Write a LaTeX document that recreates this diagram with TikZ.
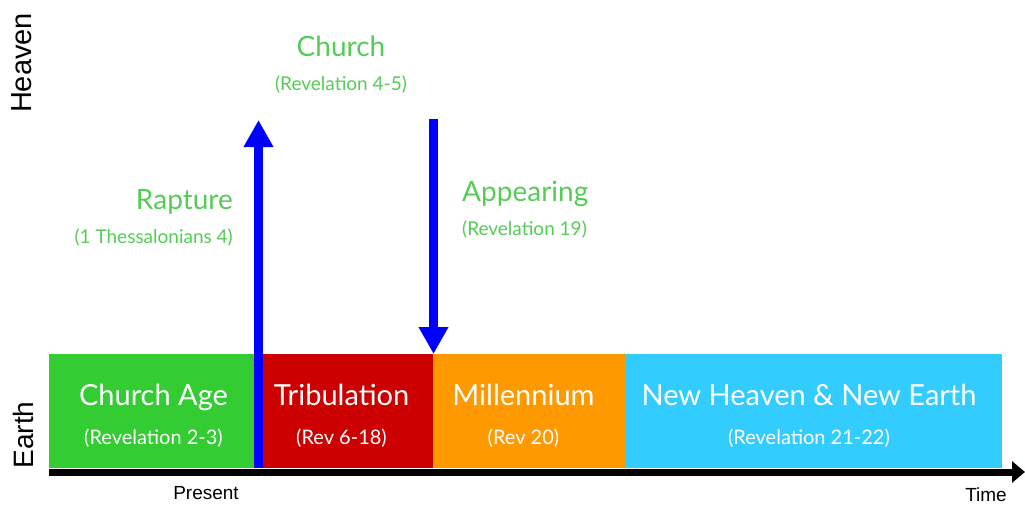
\documentclass[tikz,border=0pt]{standalone}
\usepackage{fontspec}
\setmainfont{Lato}
\newfontfamily\axisfont{Liberation Sans}
\usetikzlibrary{positioning,arrows.meta}
\definecolor{agegreen}{HTML}{33CC33}
\definecolor{tribred}{HTML}{CC0000}
\definecolor{millorange}{HTML}{FF9900}
\definecolor{newblue}{HTML}{33CCFF}
\definecolor{notegreen}{HTML}{55CC55}
\tikzset{
	era/.style={minimum height=114pt, inner sep=0pt, outer sep=0pt},
	eratext/.style={text=white, inner sep=0pt, align=center, font=\fontsize{29}{30}\selectfont},
	note/.style={text=notegreen, inner sep=0pt, font=\fontsize{28}{30}\selectfont},
	move/.style={draw=blue, line width=9pt, -{Triangle[width=28pt,length=27pt]}},
	axislabel/.style={inner sep=0pt, font=\axisfont\fontsize{19}{20}\selectfont}
}
\newcommand{\refs}[1]{\\[9pt]{\fontsize{20}{20}\selectfont #1}}
\newcommand{\noterefs}[1]{\\[4pt]{\fontsize{19}{20}\selectfont #1}}
\begin{document}
\begin{tikzpicture}[x=1pt,y=-1pt]
			%%%%% START %%%%%
			\useasboundingbox[fill=white] (0,0) rectangle (1025,504);
			
			\node[era, fill=agegreen, anchor=north west, minimum width=209pt] (church age) at (49,354) {};
			\node[era, fill=tribred, minimum width=175pt, right=0pt of church age] (tribulation) {};
			\node[era, fill=millorange, minimum width=193pt, right=0pt of tribulation] (millennium) {};
			\node[era, fill=newblue, minimum width=376pt, right=0pt of millennium] (new earth) {};
			
			\node[eratext] (church age text) at ([yshift=-5pt]church age.center) {Church Age\refs{(Revelation 2-3)}};
			\node[eratext] (tribulation text) at ([xshift=-4pt,yshift=-5pt]tribulation.center) {Tribulation\refs{(Rev 6-18)}};
			\node[eratext] (millennium text) at ([xshift=-6pt,yshift=-5pt]millennium.center) {Millennium\refs{(Rev 20)}};
			\node[eratext] (new earth text) at ([xshift=-5pt,yshift=-5pt]new earth.center) {New Heaven \& New Earth\refs{(Revelation 21-22)}};
			
			\coordinate (time start) at (49,472);
			\coordinate (time end) at (1025,472);
			\draw[line width=7pt, -{Triangle[width=21pt,length=13pt]}] (time start) -- (time end);
			
			\coordinate (rapture base) at (258.5,468);
			\coordinate (rapture top) at (258.5,120);
			\draw[move] (rapture base) -- (rapture top);
			
			\coordinate (appearing top) at (433.5,119);
			\coordinate (appearing end) at (433.5,354);
			\draw[move] (appearing top) -- (appearing end);
			
			\node[note, align=center] (church) at (341,65) {Church\noterefs{(Revelation 4-5)}};
			\node[note, align=right, anchor=east] (rapture) at (233,218) {Rapture\noterefs{(1 Thessalonians 4)}};
			\node[note, align=left, anchor=west] (appearing) at (462,210) {Appearing\noterefs{(Revelation 19)}};
			
			\node[axislabel, rotate=90, font=\axisfont\fontsize{29}{30}\selectfont] (heaven) at (22,63) {Heaven};
			\node[axislabel, rotate=90, font=\axisfont\fontsize{28}{30}\selectfont] (earth) at (23,435) {Earth};
			\node[axislabel] (present) at (206,493) {Present};
			\node[axislabel] (time) at (986,495) {Time};
			
			%%%%% END %%%%%
\end{tikzpicture}
\end{document}
